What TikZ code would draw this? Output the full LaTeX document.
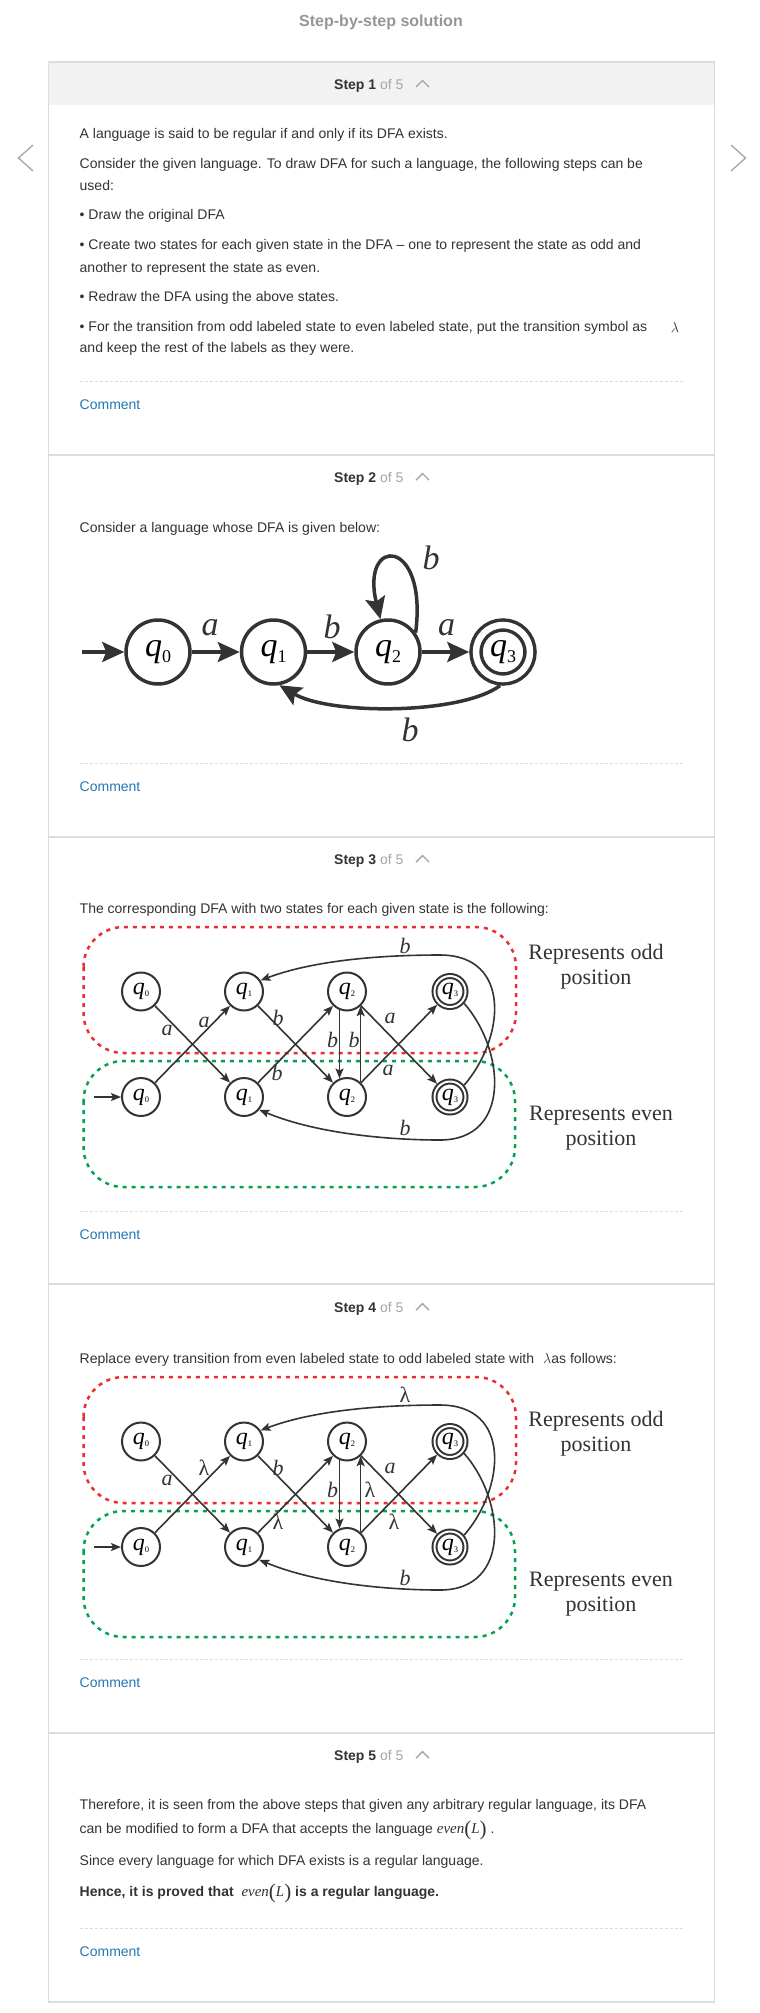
\documentclass[tikz,border=0pt]{standalone}
\usepackage{fontspec}
\setmainfont{Liberation Sans}
\newfontfamily\tms{Liberation Serif}
\usetikzlibrary{arrows.meta}
\definecolor{ink}{RGB}{51,51,51}
\definecolor{lgray}{RGB}{220,220,220}
\definecolor{ofgray}{RGB}{165,165,165}
\definecolor{titlegray}{RGB}{150,150,150}
\definecolor{band}{RGB}{242,242,242}
\definecolor{linkblue}{RGB}{35,120,180}
\definecolor{oddred}{RGB}{236,45,45}
\definecolor{evengreen}{RGB}{0,163,82}
\newcommand\sq[3]{{\itshape q}\raisebox{-#3}{\fontsize{#2}{#2}\selectfont #1}}
\newcommand\evenL{{\mdseries\tms\itshape\fontsize{15}{15}\selectfont even\raisebox{-2pt}{\upshape\fontsize{21}{21}\selectfont(}L\raisebox{-2pt}{\upshape\fontsize{21}{21}\selectfont)}}}

\begin{document}
\begin{tikzpicture}[x=1pt,y=-1pt,
  txt/.style={anchor=base west,text=ink,font=\fontsize{14}{17}\selectfont},
  cmt/.style={anchor=base west,text=linkblue,font=\fontsize{14}{17}\selectfont},
  chev/.style={draw=ofgray,line width=1.4pt},
  nav/.style={draw=ofgray,line width=1.3pt},
  frame/.style={draw=lgray,line width=1.2pt},
  dots/.style={draw=lgray,line width=0.8pt,dash pattern=on 3pt off 2pt},
  bigstate/.style={circle,draw=ink,line width=3.5pt,minimum size=64pt,font=\tms\fontsize{34}{34}\selectfont},
  bigacc/.style={bigstate,double,double distance=6.5pt,minimum size=54pt,outer sep=6.75pt},
  bigarr/.style={draw=ink,line width=3.5pt,-{Stealth[length=22pt,width=20pt,inset=4pt]}},
  biglab/.style={text=ink,font=\tms\itshape\fontsize{34}{34}\selectfont},
  smstate/.style={circle,draw=ink,line width=2pt,minimum size=38pt,font=\tms\fontsize{24}{24}\selectfont},
  smacc/.style={smstate,double,double distance=2pt,minimum size=31pt,outer sep=3pt},
  smarr/.style={draw=ink,line width=1.6pt,-{Stealth[length=10pt,width=8pt,inset=2pt]}},
  smlab/.style={text=ink,font=\tms\itshape\fontsize{22}{22}\selectfont},
  oddbox/.style={draw=oddred,line width=2.5pt,dash pattern=on 4pt off 5pt,rounded corners=40pt},
  evenbox/.style={draw=evengreen,line width=2.5pt,dash pattern=on 4pt off 5pt,rounded corners=40pt},
  reptxt/.style={align=center,text=ink,font=\tms\fontsize{22}{25}\selectfont}]
\tikzstyle{every node}+=[inner sep=0pt]
\fill [white] (0,0) rectangle (760,2013);
\useasboundingbox (0,0) rectangle (760,2013);
\node [text=titlegray,font=\bfseries\fontsize{16}{18}\selectfont] (title) at (381,22) {Step-by-step solution};
\draw [nav] (33,145) -- (18.5,158) -- (33,171);
\draw [nav] (731,145) -- (745.5,158) -- (731,171);
\fill [band] (48.7,62) rectangle (714.5,105);
\draw [frame] (48.7,62) rectangle (714.5,2002);
\draw [frame] (48.7,455) -- (714.5,455);
\draw [frame] (48.7,837) -- (714.5,837);
\draw [frame] (48.7,1284) -- (714.5,1284);
\draw [frame] (48.7,1733) -- (714.5,1733);
\node [txt] (head1) at (334,89) {\textbf{Step 1} \textcolor{ofgray}{of 5}};
\draw [chev] (416,87) -- (422.5,80.5) -- (429,87);
\node [txt] (head2) at (334,482) {\textbf{Step 2} \textcolor{ofgray}{of 5}};
\draw [chev] (416,480) -- (422.5,473.5) -- (429,480);
\node [txt] (head3) at (334,864) {\textbf{Step 3} \textcolor{ofgray}{of 5}};
\draw [chev] (416,862) -- (422.5,855.5) -- (429,862);
\node [txt] (head4) at (334,1312) {\textbf{Step 4} \textcolor{ofgray}{of 5}};
\draw [chev] (416,1310) -- (422.5,1303.5) -- (429,1310);
\node [txt] (head5) at (334,1760) {\textbf{Step 5} \textcolor{ofgray}{of 5}};
\draw [chev] (416,1758) -- (422.5,1751.5) -- (429,1758);
\node [txt] (s1l1) at (79.5,138) {A language is said to be regular if and only if its DFA exists.};
\node [txt] (s1l2) at (79.5,168) {Consider the given language. To draw DFA for such a language, the following steps can be};
\node [txt] (s1l3) at (79.5,190) {used:};
\node [txt] (s1l4) at (79.5,219) {• Draw the original DFA};
\node [txt] (s1l5) at (79.5,249) {• Create two states for each given state in the DFA – one to represent the state as odd and};
\node [txt] (s1l6) at (79.5,272) {another to represent the state as even.};
\node [txt] (s1l7) at (79.5,301) {• Redraw the DFA using the above states.};
\node [txt] (s1l8) at (79.5,331) {• For the transition from odd labeled state to even labeled state, put the transition symbol as};
\node [text=ink,font=\fontsize{14}{17}\selectfont] (s1lam) at (675,327) {$\lambda$};
\node [txt] (s1l9) at (79.5,352) {and keep the rest of the labels as they were.};
\draw [dots] (79.5,381) -- (684,381);
\node [cmt] (s1c) at (79.5,409) {Comment};
\node [txt] (s2l1) at (79.5,532) {Consider a language whose DFA is given below:};
\node [bigstate] (q0) at (158,652) {\sq{0}{18}{6pt}};
\node [bigstate] (q1) at (273.5,652) {\sq{1}{18}{6pt}};
\node [bigstate] (q2) at (388,652) {\sq{2}{18}{6pt}};
\node [bigacc] (q3) at (503,652) {\sq{3}{18}{6pt}};
\coordinate (qin) at (82,652);
\draw [bigarr] (qin) -- (q0);
\draw [bigarr] (q0) -- (q1);
\draw [bigarr] (q1) -- (q2);
\draw [bigarr] (q2) -- (q3);
\draw [bigarr] (q2.35) .. controls (428,536) and (360,536) .. (q2.103);
\draw [bigarr] (q3.-95) .. controls (460,715) and (330,715) .. (q1.-80);
\node [biglab] (la01) at (210,628) {a};
\node [biglab] (lb12) at (332,627) {b};
\node [biglab] (la23) at (446.5,628) {a};
\node [biglab] (lb22) at (431,558) {b};
\node [biglab] (lb31) at (410,730) {b};
\draw [dots] (79.5,763) -- (684,763);
\node [cmt] (s2c) at (79.5,791) {Comment};
\node [txt] (s3l1) at (79.5,913) {The corresponding DFA with two states for each given state is the following:};
\draw [oddbox] (83.5,927) rectangle (516,1053);
\draw [evenbox] (83.5,1061) rectangle (515,1187);
\node [smstate] (odd3q0) at (141,991.5) {\sq{0}{8.5}{2pt}};
\node [smstate] (odd3q1) at (244,991.5) {\sq{1}{8.5}{2pt}};
\node [smstate] (odd3q2) at (347,991.5) {\sq{2}{8.5}{2pt}};
\node [smacc] (odd3q3) at (450,991.5) {\sq{3}{8.5}{2pt}};
\node [smstate] (even3q0) at (141,1097) {\sq{0}{8.5}{2pt}};
\node [smstate] (even3q1) at (244,1097) {\sq{1}{8.5}{2pt}};
\node [smstate] (even3q2) at (347,1097) {\sq{2}{8.5}{2pt}};
\node [smacc] (even3q3) at (450,1097) {\sq{3}{8.5}{2pt}};
\coordinate (even3in) at (94,1097);
\draw [smarr] (even3in) -- (even3q0);
\draw [smarr] (odd3q0) -- (even3q1);
\draw [smarr] (even3q0) -- (odd3q1);
\draw [smarr] (odd3q1) -- (even3q2);
\draw [smarr] (even3q1) -- (odd3q2);
\draw [smarr] (odd3q2.-112) -- (even3q2.112);
\draw [smarr] (even3q2.47) -- (odd3q2.-47);
\draw [smarr] (odd3q2) -- (even3q3);
\draw [smarr] (even3q2) -- (odd3q3);
\draw [smarr] (odd3q3.-40) .. controls (505,1050) and (512,1140) .. (440,1140) .. controls (395,1140) and (320,1135) .. (even3q1.-40);
\draw [smarr] (even3q3.40) .. controls (505,1038) and (512,955) .. (440,955) .. controls (395,955) and (320,958) .. (odd3q1.34);
\node [smlab] (l3a1) at (167,1030) {a};
\node [smlab] (l3a2) at (204,1022) {a};
\node [smlab] (l3b1) at (278,1018) {b};
\node [smlab] (l3b2) at (277,1073) {b};
\node [smlab] (l3b3) at (332.5,1040) {b};
\node [smlab] (l3b4) at (354,1040) {b};
\node [smlab] (l3a3) at (390,1018) {a};
\node [smlab] (l3a4) at (388,1070) {a};
\node [smlab] (l3b5) at (405,946) {b};
\node [smlab] (l3b6) at (405,1128) {b};
\node [reptxt] (odd3txt) at (596,967) {Represents odd\\position};
\node [reptxt] (even3txt) at (601,1128) {Represents even\\position};
\draw [dots] (79.5,1211) -- (684,1211);
\node [cmt] (s3c) at (79.5,1239) {Comment};
\node [txt] (s4l1) at (79.5,1363) {Replace every transition from even labeled state to odd labeled state with\hspace{9pt}$\lambda$as follows:};
\draw [oddbox] (83.5,1377) rectangle (516,1503);
\draw [evenbox] (83.5,1511) rectangle (515,1637);
\node [smstate] (odd4q0) at (141,1441.5) {\sq{0}{8.5}{2pt}};
\node [smstate] (odd4q1) at (244,1441.5) {\sq{1}{8.5}{2pt}};
\node [smstate] (odd4q2) at (347,1441.5) {\sq{2}{8.5}{2pt}};
\node [smacc] (odd4q3) at (450,1441.5) {\sq{3}{8.5}{2pt}};
\node [smstate] (even4q0) at (141,1547) {\sq{0}{8.5}{2pt}};
\node [smstate] (even4q1) at (244,1547) {\sq{1}{8.5}{2pt}};
\node [smstate] (even4q2) at (347,1547) {\sq{2}{8.5}{2pt}};
\node [smacc] (even4q3) at (450,1547) {\sq{3}{8.5}{2pt}};
\coordinate (even4in) at (94,1547);
\draw [smarr] (even4in) -- (even4q0);
\draw [smarr] (odd4q0) -- (even4q1);
\draw [smarr] (even4q0) -- (odd4q1);
\draw [smarr] (odd4q1) -- (even4q2);
\draw [smarr] (even4q1) -- (odd4q2);
\draw [smarr] (odd4q2.-112) -- (even4q2.112);
\draw [smarr] (even4q2.47) -- (odd4q2.-47);
\draw [smarr] (odd4q2) -- (even4q3);
\draw [smarr] (even4q2) -- (odd4q3);
\draw [smarr] (odd4q3.-40) .. controls (505,1500) and (512,1590) .. (440,1590) .. controls (395,1590) and (320,1585) .. (even4q1.-40);
\draw [smarr] (even4q3.40) .. controls (505,1488) and (512,1405) .. (440,1405) .. controls (395,1405) and (320,1408) .. (odd4q1.34);
\node [smlab] (l4a1) at (167,1480) {a};
\node [smlab] (l4l1) at (204,1468) {\upshape λ};
\node [smlab] (l4b1) at (278,1468) {b};
\node [smlab] (l4l2) at (278,1522) {\upshape λ};
\node [smlab] (l4b2) at (332.5,1490) {b};
\node [smlab] (l4l3) at (370,1490) {\upshape λ};
\node [smlab] (l4a2) at (390,1468) {a};
\node [smlab] (l4l4) at (394,1522) {\upshape λ};
\node [smlab] (l4l5) at (405,1395) {\upshape λ};
\node [smlab] (l4b3) at (405,1578) {b};
\node [reptxt] (odd4txt) at (596,1434) {Represents odd\\position};
\node [reptxt] (even4txt) at (601,1594) {Represents even\\position};
\draw [dots] (79.5,1659) -- (684,1659);
\node [cmt] (s4c) at (79.5,1687) {Comment};
\node [txt] (s5l1) at (79.5,1809) {Therefore, it is seen from the above steps that given any arbitrary regular language, its DFA};
\node [txt] (s5l2) at (79.5,1833) {can be modified to form a DFA that accepts the language \evenL\ .};
\node [txt] (s5l3) at (79.5,1865) {Since every language for which DFA exists is a regular language.};
\node [txt] (s5l4) at (79.5,1896) {\textbf{Hence, it is proved that}\ \ \evenL\ \textbf{is a regular language.}};
\draw [dots] (79.5,1928) -- (684,1928);
\node [cmt] (s5c) at (79.5,1956) {Comment};
\end{tikzpicture}
\end{document}
